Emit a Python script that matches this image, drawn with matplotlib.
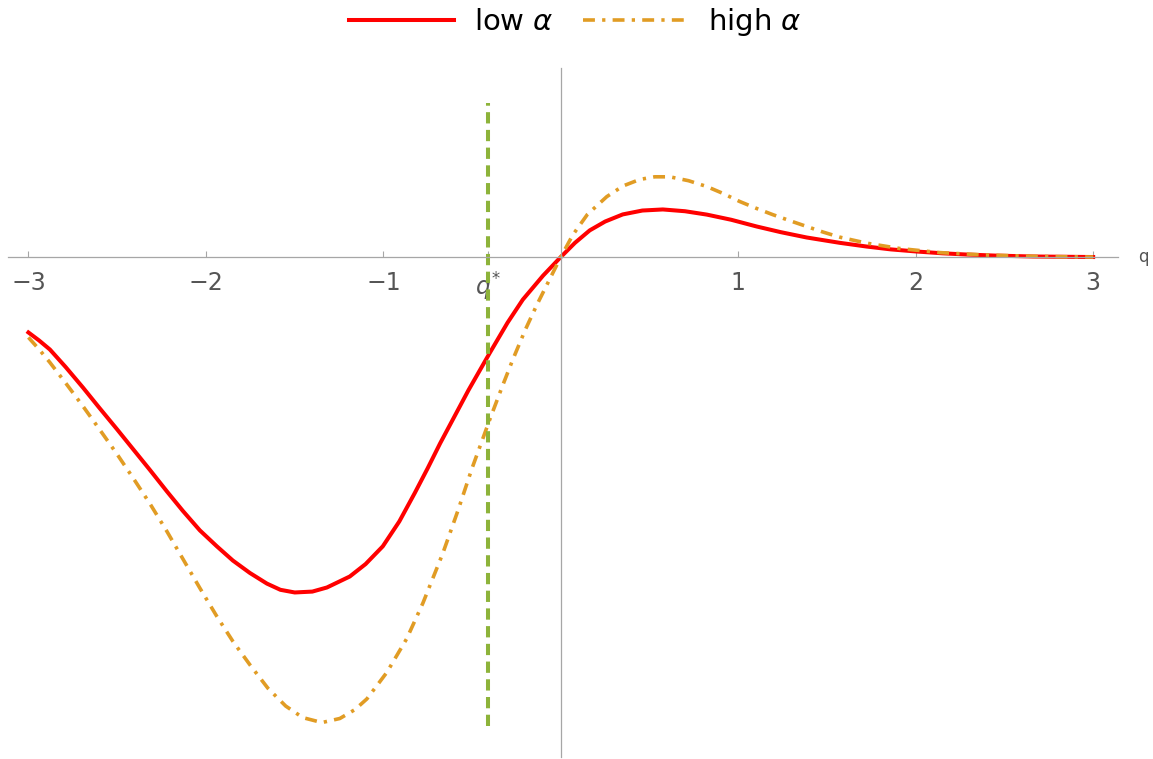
import matplotlib
matplotlib.use("Agg")
import matplotlib.pyplot as plt
from matplotlib.lines import Line2D

# values (y in arbitrary units, same scale as q)
q_low = [-3.0, -2.94, -2.879, -2.79, -2.693, -2.60, -2.501, -2.40, -2.315, -2.22,
         -2.13, -2.034, -1.938, -1.848, -1.752, -1.656, -1.58, -1.499, -1.40,
         -1.318, -1.189, -1.10, -1.003, -0.91, -0.823, -0.75, -0.68, -0.60, -0.52,
         -0.40, -0.30, -0.214, -0.10, 0.0, 0.08, 0.163, 0.25, 0.349, 0.46, 0.575,
         0.70, 0.823, 0.96, 1.104, 1.24, 1.386, 1.572, 1.724, 1.86, 2.006, 2.15,
         2.287, 2.45, 2.659, 3.0]
y_low = [-0.425, -0.47, -0.521, -0.62, -0.735, -0.85, -0.97, -1.095, -1.20, -1.32,
         -1.43, -1.54, -1.63, -1.71, -1.78, -1.84, -1.875, -1.89, -1.885,
         -1.862, -1.80, -1.73, -1.63, -1.49, -1.33, -1.19, -1.05, -0.90, -0.75,
         -0.54, -0.37, -0.24, -0.105, 0.0, 0.08, 0.15, 0.20, 0.24, 0.262, 0.268,
         0.258, 0.239, 0.21, 0.172, 0.14, 0.11, 0.08, 0.059, 0.043, 0.031, 0.021,
         0.014, 0.008, 0.003, 0.0]

q_high = [-3.0, -2.94, -2.879, -2.79, -2.693, -2.60, -2.501, -2.41, -2.315, -2.22,
          -2.13, -2.034, -1.938, -1.848, -1.75, -1.65, -1.55, -1.454, -1.346,
          -1.245, -1.16, -1.093, -0.98, -0.868, -0.777, -0.665, -0.58, -0.50,
          -0.40, -0.33, -0.27, -0.20, -0.135, -0.065, 0.0, 0.068, 0.15, 0.259,
          0.35, 0.445, 0.53, 0.614, 0.72, 0.823, 0.91, 1.008, 1.10, 1.194, 1.29,
          1.386, 1.48, 1.572, 1.724, 1.910, 2.135, 2.377, 2.70, 3.0]
y_high = [-0.453, -0.52, -0.594, -0.71, -0.84, -0.97, -1.11, -1.245, -1.39, -1.545,
          -1.70, -1.865, -2.025, -2.165, -2.30, -2.43, -2.53, -2.595, -2.623,
          -2.60, -2.55, -2.49, -2.34, -2.15, -1.95, -1.67, -1.43, -1.19,
          -0.915, -0.73, -0.577, -0.41, -0.27, -0.13, 0.0, 0.125, 0.24, 0.34,
          0.40, 0.437, 0.452, 0.452, 0.43, 0.397, 0.36, 0.313, 0.275, 0.239, 0.205,
          0.172, 0.14, 0.112, 0.078, 0.048, 0.025, 0.012, 0.003, 0.0]

qstar = -0.41
qstar_span = [-2.64, 0.87]

xticks = [-3, -2, -1, qstar, 1, 2, 3]
xticklabels = ["\u22123", "\u22122", "\u22121", r"$q^{*}$", "1", "2", "3"]

series_names = [r"low $\alpha$", r"high $\alpha$"]
red = "#ff0000"
orange = "#e19c24"
green = "#8db33a"

fig = plt.figure(figsize=(11.53, 7.59), dpi=100)
ax = fig.add_axes([8 / 1153, 2 / 759, 1110 / 1153, 689 / 759])

ax.plot(q_low, y_low, color=red, lw=2.9, solid_joinstyle="round")
ax.plot(q_high, y_high, color=orange, lw=2.6, dashes=(3.3, 2.0, 0.9, 2.0))
ax.plot([qstar, qstar], qstar_span, color=green, lw=2.9, dashes=(2.8, 1.6))

ax.set_xlim(-3.115, 3.14)
ax.set_ylim(-2.817, 1.065)

for s in ["top", "right"]:
    ax.spines[s].set_visible(False)
ax.spines["left"].set_position(("data", 0))
ax.spines["bottom"].set_position(("data", 0))
for s in ["left", "bottom"]:
    ax.spines[s].set_color("#a6a6a6")
    ax.spines[s].set_linewidth(0.9)

ax.set_yticks([])
ax.set_xticks(xticks)
ax.set_xticklabels(xticklabels)
ax.tick_params(axis="x", direction="in", length=4, width=0.8, color="#a6a6a6",
               labelsize=17, labelcolor="#555555", pad=10)

ax.text(3.255, 0, "q", fontsize=12, color="#555555", va="center", ha="left", clip_on=False)

handles = [Line2D([], [], color=red, lw=2.9),
           Line2D([], [], color=orange, lw=2.6, dashes=(3.3, 2.0, 0.9, 2.0))]
fig.legend(handles, series_names, loc="upper center", bbox_to_anchor=(0.499, 1.027),
           ncol=2, frameon=False, fontsize=21, handlelength=3.6, columnspacing=1.0,
           handletextpad=0.7)

fig.savefig("out.png", dpi=100)
